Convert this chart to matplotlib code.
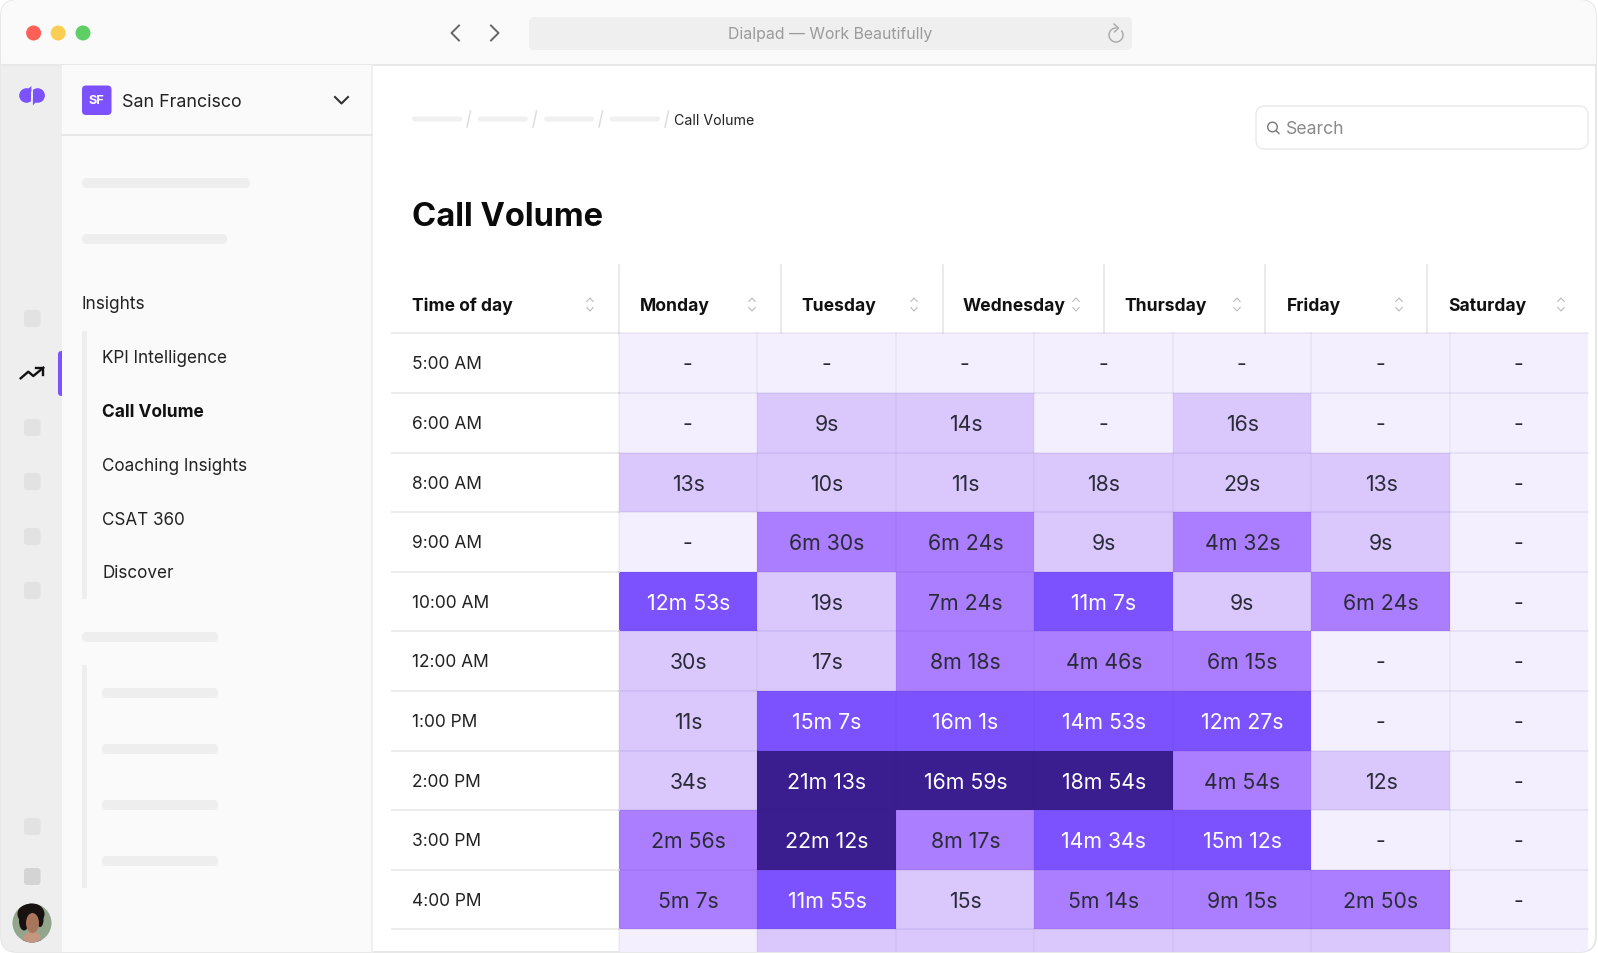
# Call Volume screen from the Dialpad app, heatmap table inside a mock window
import matplotlib
matplotlib.use("Agg")
import matplotlib.pyplot as plt
import numpy as np
from matplotlib.colors import BoundaryNorm, ListedColormap
from matplotlib.patches import Circle, Ellipse, FancyBboxPatch, Polygon, Rectangle

plt.rcParams['font.family'] = ['Inter', 'DejaVu Sans']

# data
days = ["Monday", "Tuesday", "Wednesday", "Thursday", "Friday", "Saturday"]
times = ["5:00 AM", "6:00 AM", "8:00 AM", "9:00 AM", "10:00 AM", "12:00 AM",
         "1:00 PM", "2:00 PM", "3:00 PM", "4:00 PM", "5:00 PM"]
# seconds per cell, 0 means no calls (drawn as "-")
# last column is the one without a header, cut off at the window edge
mon = [0, 0, 13, 0, 773, 30, 11, 34, 176, 307, 0]
tue = [0, 9, 10, 390, 19, 17, 907, 1273, 1332, 715, 20]
wed = [0, 14, 11, 384, 444, 498, 961, 1019, 497, 15, 20]
thu = [0, 0, 18, 9, 667, 286, 893, 1134, 874, 314, 20]
fri = [0, 16, 29, 272, 9, 375, 747, 294, 912, 555, 20]
sat = [0, 0, 13, 9, 384, 0, 0, 12, 0, 170, 20]
sun = [0, 0, 0, 0, 0, 0, 0, 0, 0, 0, 0]
bin_edges = [-1, 1, 60, 600, 1000, 100000]
bin_colors = ["#F3EFFE", "#DAC8FD", "#AB7DFF", "#7C52FF", "#3A1D8E"]
nav_items = ["KPI Intelligence", "Call Volume", "Coaching Insights", "CSAT 360", "Discover"]

W, H = 1598, 954
fig = plt.figure(figsize=(W / 100, H / 100), dpi=100, facecolor="white")
ax = fig.add_axes([0, 0, 1, 1])
ax.set_xlim(0, W)
ax.set_ylim(H - 1, -1)
ax.axis("off")


def box(x0, y0, x1, y1, color, r=0, z=2, **kw):
    if r:
        p = FancyBboxPatch((x0 + r, y0 + r), x1 - x0 - 2 * r, y1 - y0 - 2 * r,
                           boxstyle="round,pad=%f,rounding_size=%f" % (r, r),
                           fc=color, ec=kw.pop("ec", "none"), zorder=z, **kw)
    else:
        p = Rectangle((x0, y0), x1 - x0, y1 - y0, fc=color, ec="none", zorder=z, **kw)
    ax.add_patch(p)
    if clip is not None:
        p.set_clip_path(clip)
    return p


clip = None
# window
window = FancyBboxPatch((17, 16), W - 35, H - 34, boxstyle="round,pad=16,rounding_size=16",
                        fc="white", ec="#E4E4E4", lw=1.2, zorder=1)
ax.add_patch(window)
clip = window

# title bar
box(0, 0, W, 65, "#FAFAFA")
ax.plot([0, W], [65, 65], color="#E8E8E8", lw=1.5, zorder=3, clip_path=window)
for cx, col in zip([33.6, 58.2, 83], ["#FE5F57", "#F9CE52", "#5FCF65"]):
    ax.add_patch(Circle((cx, 33), 7.5, fc=col, ec="none", zorder=4))
ax.plot([459, 451.5, 459], [25.5, 33, 40.5], color="#666666", lw=1.4, zorder=4)
ax.plot([491, 498.5, 491], [25.5, 33, 40.5], color="#666666", lw=1.4, zorder=4)
box(529, 17, 1132, 50, "#EFEFEF", r=5, z=3)
ax.text(830, 33, "Dialpad — Work Beautifully", color="#9A9A9A", fontsize=11.4,
        ha="center", va="center", zorder=4)
t = np.linspace(-0.6, 4.71, 40)
ax.plot(1116 + 7 * np.cos(t), 35 + 7 * np.sin(t), color="#A8A8A8", lw=1.0, zorder=4)
ax.plot([1114, 1118.5, 1114.5], [24, 28, 32], color="#A8A8A8", lw=1.0, zorder=4)

# left rail
box(0, 65, 62, H, "#EEEEEE")
box(58, 351, 70, 396, "#7C52FF", r=3.5, z=2.5)
# logo, two blobs split by a thin slanted gap
left_blob = Rectangle((15, 80), 16.4, 30, transform=ax.transData)
right_blob = Rectangle((32.9, 80), 16, 30, transform=ax.transData)
blob_l = Circle((26.5, 95.5), 7.3, fc="#7C52FF", ec="none", zorder=4)
blob_r = Circle((37.6, 95.5), 7.3, fc="#7C52FF", ec="none", zorder=4)
ax.add_patch(blob_l)
ax.add_patch(blob_r)
blob_l.set_clip_path(left_blob)
blob_r.set_clip_path(right_blob)
ax.add_patch(Polygon([(28, 89), (31.4, 86), (31.4, 92)], fc="#7C52FF", ec="none", zorder=4))
ax.add_patch(Polygon([(36, 102), (32.9, 105.5), (32.9, 99)], fc="#7C52FF", ec="none", zorder=4))
ax.plot([20.7, 28.3, 33.3, 43.3], [378.3, 371.7, 376, 367.7], color="#111111", lw=1.7, zorder=4)
ax.plot([36, 43.3, 43.3], [367.7, 367.7, 375], color="#111111", lw=1.7, zorder=4)
for y0 in [310, 419, 473, 528, 582, 818]:
    box(24, y0, 40.5, y0 + 17, "#E2E2E2", r=3.5, z=4)
box(24, 868, 40.5, 885, "#D4D4D4", r=3.5, z=4)

# avatar
av = Circle((32, 923), 19.5, transform=ax.transData)
box(10, 900, 54, 945, "#93A58C", z=4).set_clip_path(av)
for art in [Ellipse((32, 946), 40, 14, fc="#5B6A94", ec="none"),
            Ellipse((31, 914), 27, 22, fc="#17110F", ec="none"),
            Ellipse((24, 921), 10, 19, fc="#17110F", ec="none"),
            Ellipse((40, 920), 7, 14, fc="#17110F", ec="none"),
            Ellipse((32, 938), 17, 13, fc="#C4967F", ec="none"),
            Ellipse((32.5, 923), 13, 20, fc="#A9755A", ec="none")]:
    art.set_zorder(5)
    ax.add_patch(art)
    art.set_clip_path(av)

# sidebar
box(62, 65, 372, H, "#FAFAFA", z=3)
ax.plot([372, 372], [65, H], color="#EDEDED", lw=1.2, zorder=3)
ax.plot([62, 372], [134.5, 134.5], color="#E6E6E6", lw=1.3, zorder=3.5)
box(82, 85.5, 111.5, 115, "#7C52FF", r=4, z=4)
ax.text(96.7, 100, "SF", color="white", fontsize=9.2, fontweight="bold", ha="center", va="center", zorder=5)
ax.text(122, 106, "San Francisco", color="#222222", fontsize=12.9, va="baseline", zorder=5)
ax.plot([335, 341.5, 348], [97, 103.5, 97], color="#333333", lw=1.5, zorder=5)
for x1, y in [(250, 183), (227, 239), (218, 637)]:
    box(82, y - 5, x1, y + 5, "#EEEEEE", r=5, z=4)
ax.text(81.5, 308.5, "Insights", color="#222222", fontsize=12.4, va="baseline", zorder=5)
box(82, 331, 87, 599, "#EEEEEE", z=4)
for i, item in enumerate(nav_items):
    ax.text(102, 362.5 + i * 53.7, item, color="#111111" if i == 1 else "#222222",
            fontsize=12.5 if i == 1 else 12.3,
            fontweight="bold" if i == 1 else "normal", va="baseline", zorder=5)
box(82, 665, 87, 888, "#EEEEEE", z=4)
for y in [693, 749, 805, 861]:
    box(102, y - 5, 218, y + 5, "#EEEEEE", r=5, z=4)

# breadcrumb
for x0 in [412, 478, 544, 610]:
    box(x0, 116.5, x0 + 50, 121.5, "#F0F0F0", r=2.5, z=4)
    ax.plot([x0 + 55, x0 + 58.5], [127, 111], color="#DDDDDD", lw=1.1, zorder=4)
ax.text(674.5, 124, "Call Volume", color="#222222", fontsize=10.2, va="baseline", zorder=5)

# search
box(1256, 106, 1588, 149, "white", r=9, z=4, ec="#E9E9E9", lw=1.0)
ax.add_patch(Circle((1272.5, 127), 4.8, fc="none", ec="#777777", lw=1.0, zorder=5))
ax.plot([1276, 1279], [130.5, 133.5], color="#777777", lw=1.0, zorder=5)
ax.text(1286, 132.5, "Search", color="#8A8A8A", fontsize=12.7, va="baseline", zorder=5)

ax.text(412, 224.5, "Call Volume", color="#0A0A0A", fontsize=23.5, fontweight="bold", va="baseline", zorder=5)

# table header
header_x = [412, 639.6, 801, 963, 1124.5, 1286.5, 1448]
sort_x = [590, 752, 914, 1076, 1237, 1399, 1561]
for x, name in zip(header_x, ["Time of day"] + days):
    ax.text(x, 310, name, color="#111111", fontsize=12.6, fontweight="bold", va="baseline", zorder=5)
for x in sort_x:
    ax.plot([x - 3.2, x, x + 3.2], [301.5, 298, 301.5], color="#BBBBBB", lw=0.8, zorder=5)
    ax.plot([x - 3.2, x, x + 3.2], [307.5, 311, 307.5], color="#BBBBBB", lw=0.8, zorder=5)
for x in [618.5, 781, 943, 1103.5, 1265, 1427]:
    ax.plot([x, x], [265, 333], color="#E4E4E4", lw=1.1, zorder=3)

# heatmap
col_edges = np.array([618.5, 757, 896, 1034, 1172.8, 1311, 1450, 1588])
row_edges = np.array([333, 393, 452.5, 512, 571.5, 631, 691, 751, 810, 869.7, 929.3, 989])
seconds = np.array([mon, tue, wed, thu, fri, sat, sun]).T
cmap = ListedColormap(bin_colors)
norm = BoundaryNorm(bin_edges, cmap.N)
mesh = ax.pcolormesh(col_edges, row_edges, seconds, cmap=cmap, norm=norm, zorder=2)
mesh.set_clip_path(window)

# faint grid on top of the cells, plain gray rules over the white label column
for y in row_edges[:-1]:
    ax.plot([392, 618.5], [y, y], color="#EAEAEA", lw=1.3, zorder=3)
    ax.plot([618.5, 1588], [y, y], color="#3C2A80", alpha=0.08, lw=1.3, zorder=3)
for x in col_edges[:-1]:
    ax.plot([x, x], [333, H], color="#3C2A80", alpha=0.06, lw=1.1, zorder=3, clip_path=window)


def fmt(v):
    if v == 0:
        return "-"
    if v < 60:
        return "%ds" % v
    return "%dm %ds" % (v // 60, v % 60)


for r in range(len(times)):
    yc = (row_edges[r] + row_edges[r + 1]) / 2
    ax.text(412, yc + 5.5, times[r], color="#222222", fontsize=12.5, va="baseline", zorder=5, clip_on=True)
    if r == len(times) - 1:
        continue
    for c in range(seconds.shape[1]):
        v = seconds[r, c]
        xc = (col_edges[c] + col_edges[c + 1]) / 2
        col = "white" if v >= 600 else "#2B2B38"
        ax.text(xc + (0.5 if v else -0.5), yc + 7.5, fmt(v), color=col, fontsize=15.3,
                ha="center", va="baseline", zorder=5)

fig.savefig("out.png", dpi=100)
